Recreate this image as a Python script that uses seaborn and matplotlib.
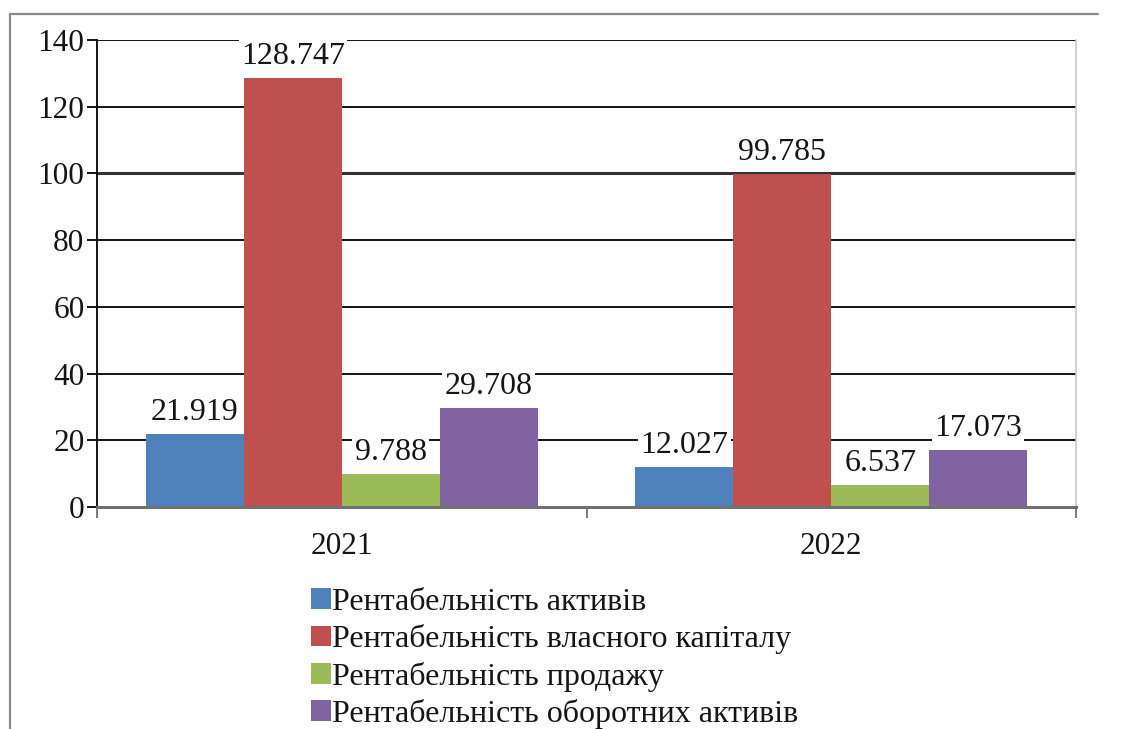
import matplotlib
matplotlib.use("Agg")
import matplotlib.pyplot as plt
from matplotlib.lines import Line2D
import seaborn as sns
import pandas as pd

# Profitability indicators, %
years = ["2021", "2022"]
series = [
    "Рентабельність активів",
    "Рентабельність власного капіталу",
    "Рентабельність продажу",
    "Рентабельність оборотних активів",
]
return_on_assets = [21.919, 12.027]
return_on_equity = [128.747, 99.785]
return_on_sales = [9.788, 6.537]
return_on_current_assets = [29.708, 17.073]
colors = ["#4F81BD", "#C0504D", "#9BBB59", "#8064A2"]
y_ticks = [0, 20, 40, 60, 80, 100, 120, 140]

values = [return_on_assets, return_on_equity, return_on_sales, return_on_current_assets]
rows = []
for name, vals in zip(series, values):
    for yr, v in zip(years, vals):
        rows.append({"year": yr, "series": name, "value": v})
df = pd.DataFrame(rows)

sns.set_theme(style="white")
plt.rcParams["font.family"] = ["Liberation Serif", "DejaVu Serif"]
TICK_FS = 22.5
LABEL_FS = 23
LEGEND_FS = 23
TEXT_COLOR = "#151515"

fig = plt.figure(figsize=(11.37, 7.29), dpi=100)
ax = fig.add_axes([97 / 1137, 1 - 507 / 729, (1076 - 97) / 1137, (507 - 40) / 729])

sns.barplot(data=df, x="year", y="value", hue="series", order=years,
            hue_order=series, palette=colors, saturation=1, width=0.8,
            ax=ax, edgecolor="none", linewidth=0)

ax.set_ylim(0, 140)
ax.set_xlim(-0.5, 1.5)
ax.set_yticks(y_ticks)
ax.set_xlabel("")
ax.set_ylabel("")

# horizontal gridlines
ax.yaxis.grid(True, color="black", linewidth=1.3)
ax.set_axisbelow(True)
for gl, t in zip(ax.get_ygridlines(), y_ticks):
    if t == 100:
        gl.set_linewidth(2.2)
        gl.set_color("#333333")

# spines
ax.spines["left"].set_color("black")
ax.spines["left"].set_linewidth(1.3)
ax.spines["bottom"].set_color("#707070")
ax.spines["bottom"].set_linewidth(2.2)
ax.spines["top"].set_visible(False)
ax.spines["right"].set_color("#c8c8c8")
ax.spines["right"].set_linewidth(1.2)

ax.tick_params(axis="y", which="major", direction="out", length=7, width=1.3,
               color="black", labelsize=TICK_FS, pad=2, left=True)
ax.tick_params(axis="x", which="major", length=0, labelsize=TICK_FS, pad=18)
ax.set_xticks([-0.5, 0.5, 1.5], minor=True)
ax.tick_params(axis="x", which="minor", direction="out", length=8, width=1.3,
               color="#707070", bottom=True)
for lbl in ax.get_xticklabels() + ax.get_yticklabels():
    lbl.set_color(TEXT_COLOR)

# value labels above bars
for cont in ax.containers:
    ax.bar_label(cont, labels=[f"{v:.3f}" for v in cont.datavalues],
                 padding=5, fontsize=LABEL_FS, color=TEXT_COLOR,
                 bbox=dict(facecolor="white", edgecolor="none", pad=1.5))

# legend below the plot
handles, labels = ax.get_legend_handles_labels()
ax.get_legend().remove()
fig.legend(handles, labels, loc="upper left",
           bbox_to_anchor=(311 / 1137, 1 - 588 / 729),
           frameon=False, fontsize=LEGEND_FS, handlelength=0.62, handleheight=0.62,
           handletextpad=0.05, labelspacing=0.23, borderpad=0, borderaxespad=0,
           labelcolor=TEXT_COLOR)

# outer chart frame
fig.add_artist(Line2D([10 / 1137, 1098 / 1137], [1 - 14 / 729] * 2,
                      transform=fig.transFigure, color="#8a8a8a", linewidth=1.6))
fig.add_artist(Line2D([10 / 1137, 10 / 1137], [0, 1 - 14 / 729],
                      transform=fig.transFigure, color="#8a8a8a", linewidth=1.6))

fig.savefig("out.png", dpi=100, facecolor="white")
